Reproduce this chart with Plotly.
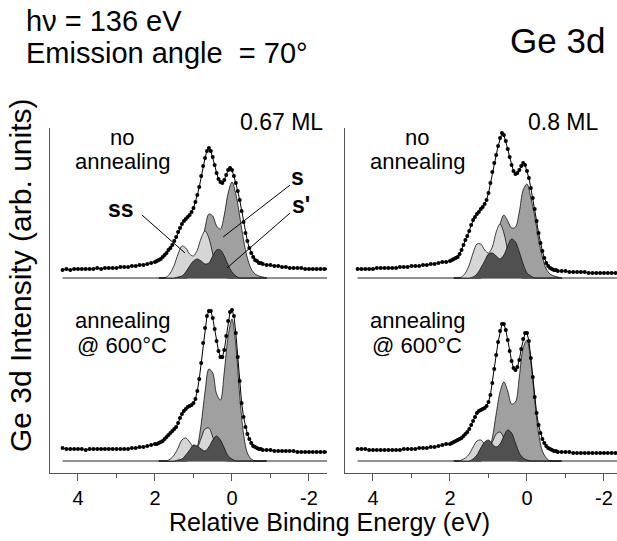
import plotly.graph_objects as go

# ---------------- data ----------------
# binding energy grid of the measured spectra (eV)
E_DATA = [4.4, 4.3, 4.2, 4.1, 4.0, 3.9, 3.8, 3.7, 3.6, 3.5, 3.4, 3.3, 3.2, 3.1, 3.0,
          2.9, 2.8, 2.7, 2.6, 2.5, 2.4, 2.3, 2.2, 2.1,
          2.0, 1.95, 1.9, 1.85, 1.8, 1.75, 1.7, 1.65, 1.6, 1.55,
          1.5, 1.45, 1.4, 1.35, 1.3, 1.25, 1.2, 1.15, 1.1, 1.05,
          1.0, 0.95, 0.9, 0.85, 0.8, 0.75, 0.7, 0.65, 0.6, 0.55,
          0.5, 0.45, 0.4, 0.35, 0.3, 0.25, 0.2, 0.15, 0.1, 0.05,
          0.0, -0.05, -0.1, -0.15, -0.2, -0.25, -0.3, -0.35, -0.4, -0.45,
          -0.5, -0.55, -0.6, -0.65, -0.7, -0.75, -0.8,
          -0.9, -1.0, -1.1, -1.2, -1.3, -1.4, -1.5, -1.6, -1.7, -1.8, -1.9,
          -2.0, -2.1, -2.2, -2.3, -2.4, -2.5]

# 0.67 ML, no annealing
TL_DATA = [8, 9, 8, 9, 9, 9, 9, 9, 9, 10, 9, 10, 10, 10, 10, 11, 11, 11, 12, 12, 13, 13, 14, 15,
           16, 17, 18, 19, 21, 23, 25, 28, 30, 33,
           37, 41, 46, 50, 54, 57, 59, 61, 63, 66,
           70, 76, 83, 91, 102, 112, 120, 127, 130, 127,
           121, 113, 105, 99, 96, 95, 98, 103, 108, 110,
           108, 102, 95, 87, 78, 67, 56, 45, 37, 30,
           25, 21, 18, 17, 15, 15, 14,
           13, 13, 12, 12, 11, 11, 10, 10, 10, 10, 9, 9, 9, 9, 9, 9, 9]
# 0.8 ML, no annealing
TR_DATA = [9, 9, 9, 9, 9, 10, 10, 10, 10, 10, 10, 11, 11, 11, 12, 12, 12, 13, 13, 14, 14, 15, 16, 16,
           17, 18, 19, 20, 21, 24, 28, 33, 38, 42,
           47, 53, 58, 61, 64, 66, 69, 71, 74, 78,
           85, 95, 106, 115, 123, 132, 140, 145, 143, 137,
           129, 121, 113, 107, 104, 105, 108, 112, 115, 113,
           107, 100, 90, 80, 69, 57, 45, 35, 27, 20,
           15, 12, 10, 9, 8, 8, 7,
           7, 7, 6, 6, 6, 6, 6, 5, 5, 5, 5, 5, 5, 5, 5, 5, 5]
# 0.67 ML, annealing @ 600 C
BL_DATA = [13, 12, 12, 12, 12, 12, 11, 12, 12, 12, 12, 12, 12, 12, 12, 12, 12, 12, 13, 13, 14, 14, 15, 16,
           17, 17, 18, 19, 20, 22, 24, 26, 28, 30,
           32, 34, 38, 43, 47, 50, 52, 54, 55, 56,
           58, 62, 70, 82, 98, 118, 133, 145, 150, 150,
           143, 132, 120, 110, 104, 104, 111, 125, 140, 149,
           151, 145, 128, 104, 80, 58, 44, 34, 27, 22,
           18, 15, 14, 13, 12, 12, 11,
           11, 11, 10, 10, 10, 10, 10, 10, 9, 9, 9, 9, 9, 9, 9, 9, 9]
# 0.8 ML, annealing @ 600 C
BR_DATA = [12, 12, 12, 11, 11, 11, 11, 11, 11, 11, 11, 11, 12, 12, 12, 12, 13, 13, 13, 14, 14, 15, 16, 17,
           17, 18, 19, 20, 21, 22, 23, 25, 27, 29,
           32, 36, 40, 44, 48, 50, 51, 52, 53, 55,
           59, 66, 78, 92, 106, 119, 130, 137, 137, 131,
           121, 110, 100, 93, 91, 94, 101, 112, 122, 128,
           128, 120, 103, 84, 64, 48, 36, 28, 22, 18,
           15, 13, 12, 11, 10, 10, 9,
           9, 9, 9, 8, 8, 8, 8, 8, 8, 8, 8, 8, 8, 8, 8, 8, 8]

# energy grid of the fitted components (eV)
E_COMP = [1.9, 1.8, 1.7, 1.6, 1.5, 1.4, 1.3, 1.2, 1.1, 1.0, 0.9, 0.8, 0.7, 0.6, 0.5,
          0.4, 0.3, 0.2, 0.1, 0.0, -0.1, -0.2, -0.3, -0.4, -0.5, -0.6, -0.7, -0.8, -0.9]

TL_S  = [0, 0, 0, 0, 0, 0, 0, 0, 1, 5, 13, 30, 50, 64, 62, 52, 49, 63, 85, 96, 84, 62, 38, 20, 9, 4, 2, 1, 0]
TL_SS = [0, 0, 1, 5, 13, 24, 32, 30, 24, 22, 28, 40, 47, 40, 24, 10, 3, 1, 0, 0, 0, 0, 0, 0, 0, 0, 0, 0, 0]
TL_SP = [0, 0, 0, 0, 0, 1, 2, 6, 12, 17, 19, 17, 14, 15, 22, 28, 28, 22, 13, 6, 2, 0, 0, 0, 0, 0, 0, 0, 0]

TR_S  = [0, 0, 0, 0, 0, 0, 0, 0, 2, 6, 17, 35, 54, 63, 57, 50, 51, 66, 88, 94, 80, 62, 39, 21, 9, 4, 2, 1, 0]
TR_SS = [0, 0, 1, 5, 13, 25, 34, 34, 28, 25, 31, 46, 54, 45, 27, 11, 3, 1, 0, 0, 0, 0, 0, 0, 0, 0, 0, 0, 0]
TR_SP = [0, 0, 0, 0, 0, 1, 4, 10, 17, 24, 25, 22, 19, 23, 32, 39, 36, 26, 14, 5, 2, 0, 0, 0, 0, 0, 0, 0, 0]

BL_S  = [0, 0, 0, 0, 0, 0, 0, 0, 1, 4, 14, 37, 69, 92, 88, 67, 61, 89, 125, 142, 116, 66, 27, 8, 2, 0, 0, 0, 0]
BL_SS = [0, 0, 0, 2, 6, 13, 21, 23, 19, 14, 14, 23, 32, 33, 24, 13, 5, 1, 0, 0, 0, 0, 0, 0, 0, 0, 0, 0, 0]
BL_SP = [0, 0, 0, 0, 0, 1, 2, 6, 11, 16, 15, 12, 10, 14, 21, 25, 21, 13, 5, 2, 0, 0, 0, 0, 0, 0, 0, 0, 0]

BR_S  = [0, 0, 0, 0, 0, 0, 0, 0, 2, 9, 23, 47, 69, 79, 70, 57, 59, 84, 113, 121, 99, 61, 28, 10, 3, 0, 0, 0, 0]
BR_SS = [0, 0, 1, 3, 7, 14, 20, 21, 17, 15, 19, 27, 29, 23, 13, 5, 1, 0, 0, 0, 0, 0, 0, 0, 0, 0, 0, 0, 0]
BR_SP = [0, 0, 0, 0, 0, 2, 6, 13, 19, 21, 17, 14, 17, 25, 31, 28, 18, 8, 3, 1, 0, 0, 0, 0, 0, 0, 0, 0, 0]

BASELINE_E = [4.4, -2.5]
TICK_VALS = [4, 2, 0, -2]
TICK_TEXT = ["4", "2", "0", "-2"]
MINOR_TICKS = [3, 1, -1]

# ---------------- styling ----------------
FONT = "Liberation Sans, Arial, Helvetica, sans-serif"
C_S, C_SS, C_SP = "#a0a0a0", "#d6d6d6", "#505050"
AXC = "#555555"

fig = go.Figure()

panels = [
    ("x3", "y3", TL_DATA, TL_S, TL_SS, TL_SP),
    ("x4", "y4", TR_DATA, TR_S, TR_SS, TR_SP),
    ("x", "y", BL_DATA, BL_S, BL_SS, BL_SP),
    ("x2", "y2", BR_DATA, BR_S, BR_SS, BR_SP),
]

for xa, ya, data, s, ss, sp in panels:
    fig.add_trace(go.Scatter(x=BASELINE_E, y=[0, 0], mode="lines",
                             line=dict(color="#222", width=1), xaxis=xa, yaxis=ya,
                             showlegend=False, hoverinfo="skip"))
    for comp, col in ((s, C_S), (ss, C_SS), (sp, C_SP)):
        fig.add_trace(go.Scatter(x=E_COMP, y=comp, mode="lines", fill="tozeroy",
                                 fillcolor=col, line=dict(color="#111", width=0.8,
                                                          shape="spline", smoothing=0.9),
                                 xaxis=xa, yaxis=ya, showlegend=False))
    fig.add_trace(go.Scatter(x=E_DATA, y=data, mode="lines+markers",
                             line=dict(color="black", width=1),
                             marker=dict(color="black", size=4),
                             xaxis=xa, yaxis=ya, showlegend=False))

# ---------------- axes ----------------
X1_DOM = [50 / 617, 327 / 617]
X2_DOM = [345 / 617, 1.0]
X1_RANGE = [4.727, -2.468]
X2_RANGE = [4.727, -2.338]
YB_DOM = [1 - 473 / 541, 1 - 290 / 541]
YT_DOM = [1 - 290 / 541, 1 - 128 / 541]

def xaxis(dom, rng, anchor, visible=True):
    return dict(domain=dom, range=rng, anchor=anchor, visible=visible,
                showline=True, linecolor=AXC, linewidth=1, mirror=False,
                ticks="outside", tickvals=TICK_VALS, ticktext=TICK_TEXT,
                ticklen=7, tickwidth=1, tickcolor=AXC,
                minor=dict(tickvals=MINOR_TICKS, ticks="outside", ticklen=4,
                           tickwidth=1, tickcolor=AXC),
                tickfont=dict(family=FONT, size=20, color="black"),
                ticklabeloverflow="allow",
                showgrid=False, zeroline=False, fixedrange=True)

def yaxis(dom, rng, anchor):
    return dict(domain=dom, range=rng, anchor=anchor, showline=True,
                linecolor=AXC, linewidth=1, ticks="", showticklabels=False,
                showgrid=False, zeroline=False, fixedrange=True)

fig.update_layout(
    xaxis=xaxis(X1_DOM, X1_RANGE, "y"),
    xaxis2=xaxis(X2_DOM, X2_RANGE, "y2"),
    xaxis3=xaxis(X1_DOM, X1_RANGE, "y3", visible=False),
    xaxis4=xaxis(X2_DOM, X2_RANGE, "y4", visible=False),
    yaxis=yaxis(YB_DOM, [-12, 171], "x"),
    yaxis2=yaxis(YB_DOM, [-12, 171], "x2"),
    yaxis3=yaxis(YT_DOM, [-12, 150], "x3"),
    yaxis4=yaxis(YT_DOM, [-12, 150], "x4"),
    width=617, height=541, autosize=False,
    margin=dict(l=0, r=0, t=0, b=0),
    paper_bgcolor="white", plot_bgcolor="white",
    font=dict(family=FONT, color="black"),
    showlegend=False,
)

def ann(text, x, y, size, xanchor="center", bold=False, **kw):
    if bold:
        text = "<b>" + text + "</b>"
    fig.add_annotation(text=text, x=x, y=y, xref="paper", yref="paper",
                       xanchor=xanchor, yanchor="middle", showarrow=False,
                       font=dict(family=FONT, size=size, color="black"), **kw)

ann("h\u03bd = 136 eV", 24 / 617, 1 - 21 / 541, 29, xanchor="left")
ann("Emission angle \u00a0= 70\u00b0", 24 / 617, 1 - 53 / 541, 29, xanchor="left")
ann("Ge 3d", 557 / 617, 1 - 40 / 541, 35)

ann("0.67 ML", 325 / 617, 1 - 122 / 541, 23, xanchor="right")
ann("0.8 ML", 601 / 617, 1 - 122 / 541, 23, xanchor="right")

for cx in (122 / 617, 417 / 617):
    ann("no", cx, 1 - 137 / 541, 22)
    ann("annealing", cx, 1 - 161 / 541, 22)
    ann("annealing", cx, 1 - 320 / 541, 22)
    ann("@ 600\u00b0C", cx, 1 - 345 / 541, 22)

ann("Relative Binding Energy (eV)", 330 / 617, 1 - 522 / 541, 25)
ann("Ge 3d Intensity (arb. units)", 20 / 617, 1 - 275 / 541, 30, textangle=-90)

# component labels and leader lines in the 0.67 ML / no annealing panel
for txt, ex, hy in (("ss", 2.88, 69), ("s", -1.69, 101), ("s'", -1.79, 73)):
    fig.add_annotation(text="<b>" + txt + "</b>", x=ex, y=hy, xref="x3", yref="y3",
                       showarrow=False, xanchor="center", yanchor="middle",
                       font=dict(family=FONT, size=23, color="black"))
for (x0, y0, x1, y1) in ((2.34, 63, 1.22, 25), (-1.51, 93, 0.23, 41), (-1.51, 65, 0.13, 10)):
    fig.add_shape(type="line", x0=x0, y0=y0, x1=x1, y1=y1, xref="x3", yref="y3",
                  line=dict(color="black", width=1))

fig.write_html("out.html", config={"displayModeBar": False, "staticPlot": True},
               post_script="document.body.style.margin='0px';")
